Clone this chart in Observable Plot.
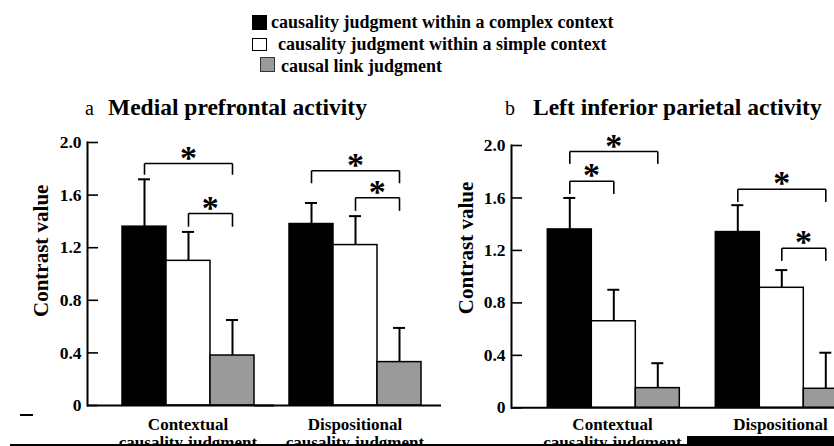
<!DOCTYPE html>
<html><head><meta charset="utf-8">
<script src="https://cdn.jsdelivr.net/npm/d3@7"></script>
<script src="https://cdn.jsdelivr.net/npm/@observablehq/plot@0.6"></script>
<style>
html,body{margin:0;padding:0;background:#fff;}
body{width:834px;height:446px;overflow:hidden;position:relative;font-family:"Liberation Serif","Times New Roman",serif;font-weight:bold;color:#000;}
.abs{position:absolute;white-space:nowrap;}
.leg{font-size:18px;line-height:18px;}
.sw{position:absolute;box-sizing:border-box;}
.title{font-size:23.5px;line-height:24px;}
.letter{font-size:20px;line-height:20px;font-weight:normal;}
.panel{position:absolute;top:0;}
.panel svg{max-width:none;overflow:visible;display:block;}
.art{position:absolute;background:#000;}
</style></head><body>
<div class="sw" style="left:252px;top:15px;width:15px;height:15px;background:#000;"></div>
<div class="abs leg" style="left:271px;top:13px;" id="leg0"></div>
<div class="sw" style="left:252px;top:38px;width:15px;height:13px;background:#fff;border:1.5px solid #000;"></div>
<div class="abs leg" style="left:278px;top:35px;" id="leg1"></div>
<div class="sw" style="left:260px;top:57px;width:15px;height:15px;background:#9a9a9a;border:1.5px solid #333;"></div>
<div class="abs leg" style="left:281px;top:57px;" id="leg2"></div>

<div class="abs letter" style="left:85px;top:98px;">a</div>
<div class="abs title" style="left:108px;top:95px;" id="titleA"></div>
<div class="abs letter" style="left:505px;top:98px;">b</div>
<div class="abs title" style="left:533px;top:95px;" id="titleB"></div>

<div class="panel" id="panelA" style="left:0px;"></div>
<div class="panel" id="panelB" style="left:420px;"></div>

<div class="art" style="left:20px;top:414px;width:13px;height:2px;"></div>
<div class="art" style="left:10px;top:444px;width:824px;height:2px;"></div>
<div class="art" style="left:687px;top:436px;width:147px;height:10px;"></div>

<script>
// ---------- data ----------
const groups = ["Contextual", "Dispositional"];
const groupLabels = ["Contextual\ncausality judgment", "Dispositional\ncausality judgment"];
const series = ["complex", "simple", "link"];
const seriesLabels = [
  "causality judgment within a complex context",
  "causality judgment within a simple context",
  "causal link judgment"
];
const seriesColors = ["#000000", "#ffffff", "#9a9a9a"];
const panelTitles = ["Medial prefrontal activity", "Left inferior parietal activity"];
const yLabel = "Contrast value";
const yTicks = [0, 0.4, 0.8, 1.2, 1.6, 2.0];

// bar heights (mean contrast values), per group: [complex, simple, link]
const medialContextual = [1.36, 1.10, 0.38];
const medialDispositional = [1.38, 1.22, 0.33];
const parietalContextual = [1.36, 0.66, 0.15];
const parietalDispositional = [1.34, 0.915, 0.145];
// upper ends of error bars
const medialContextualErr = [1.72, 1.32, 0.65];
const medialDispositionalErr = [1.54, 1.44, 0.59];
const parietalContextualErr = [1.60, 0.90, 0.34];
const parietalDispositionalErr = [1.545, 1.05, 0.42];

// significance brackets: [group, from, to, top, legBottom]
const medialBrackets = [
  ["Contextual", "complex", "link", 1.84, 1.755],
  ["Contextual", "simple", "link", 1.46, 1.36],
  ["Dispositional", "complex", "link", 1.785, 1.69],
  ["Dispositional", "simple", "link", 1.58, 1.48]
];
const parietalBrackets = [
  ["Contextual", "complex", "link", 1.954, 1.86],
  ["Contextual", "complex", "simple", 1.727, 1.63],
  ["Dispositional", "complex", "link", 1.666, 1.57],
  ["Dispositional", "simple", "link", 1.216, 1.12]
];

// ---------- build tables ----------
function makeRows(vals, errs) {
  const out = [];
  groups.forEach((g, gi) => series.forEach((s, si) =>
    out.push({group: g, series: s, value: vals[gi][si], upper: errs[gi][si]})));
  return out;
}
function makeBrackets(list) {
  return list.map(([group, from, to, top, bottom]) => {
    const a = series.indexOf(from), b = series.indexOf(to);
    const wide = (b - a) % 2 === 0;
    return {group, from, to, top, bottom, wide, mid: wide ? series[(a + b) / 2] : to};
  });
}

const medialRows = makeRows([medialContextual, medialDispositional], [medialContextualErr, medialDispositionalErr]);
const parietalRows = makeRows([parietalContextual, parietalDispositional], [parietalContextualErr, parietalDispositionalErr]);

function panel({rows, brackets, width, marginLeft, top, bottom, axisExtend, labelDx, labelDy, xPad}) {
  const H = 470;
  const br = makeBrackets(brackets);
  const bw = 44.6;
  return Plot.plot({
    width, height: H,
    marginLeft, marginRight: 0, marginTop: top, marginBottom: H - bottom,
    style: {background: "none", fontFamily: "'Liberation Serif', 'Times New Roman', serif", fontWeight: "bold", color: "black", overflow: "visible", maxWidth: "none"},
    fx: {domain: groups, padding: 0, axis: null},
    x: {domain: series, paddingInner: 0, paddingOuter: 0.382, align: 1, axis: null},
    y: {domain: [0, 2], label: null, axis: null},
    color: {domain: series, range: seriesColors},
    marks: [
      Plot.barY(rows, {fx: "group", x: "series", y: "value", fill: "series", stroke: "black", strokeWidth: 1.5}),
      Plot.ruleX(rows, {fx: "group", x: "series", y1: "value", y2: "upper", stroke: "black", strokeWidth: 2}),
      Plot.tickY(rows, {fx: "group", x: "series", y: "upper", insetLeft: 16, insetRight: 16, stroke: "black", strokeWidth: 2}),
      Plot.link(br, {fx: "group", x1: "from", x2: "to", y1: "top", y2: "top", stroke: "black", strokeWidth: 1.6}),
      Plot.link(br, {fx: "group", x1: "from", x2: "from", y1: "top", y2: "bottom", stroke: "black", strokeWidth: 1.6}),
      Plot.link(br, {fx: "group", x1: "to", x2: "to", y1: "top", y2: "bottom", stroke: "black", strokeWidth: 1.6}),
      Plot.text(br.filter(d => d.wide), {fx: "group", x: "mid", y: "top", text: () => "*", fontSize: 34, fontWeight: "bold", lineAnchor: "bottom", dy: 5}),
      Plot.text(br.filter(d => !d.wide), {fx: "group", x: "mid", y: "top", text: () => "*", fontSize: 34, fontWeight: "bold", lineAnchor: "bottom", dy: 5, dx: -bw / 2}),
      Plot.ruleY([0], {stroke: "black", strokeWidth: 2, insetRight: -axisExtend}),
      Plot.frame({anchor: "left", facetAnchor: "left", stroke: "black", strokeWidth: 2}),
      Plot.axisY(yTicks, {anchor: "left", tickSize: -11, tickPadding: 17, strokeWidth: 1.6,
        tickFormat: d => d === 0 ? "0" : d3.format(".1f")(d), fontSize: 17.5, fontWeight: "bold", label: null}),
      Plot.text([{group: groups[0], label: yLabel}], {fx: "group", text: "label", frameAnchor: "left", rotate: -90, dx: labelDx, dy: labelDy, fontSize: 21, fontWeight: "bold"}),
      Plot.axisFx({anchor: "bottom", tickSize: 0, tickPadding: xPad, dx: 17, fontSize: 17, fontWeight: "bold", lineHeight: 1.05,
        tickFormat: d => groupLabels[groups.indexOf(d)], label: null})
    ]
  });
}

document.getElementById("leg0").textContent = seriesLabels[0];
document.getElementById("leg1").textContent = seriesLabels[1];
document.getElementById("leg2").textContent = seriesLabels[2];
document.getElementById("titleA").textContent = panelTitles[0];
document.getElementById("titleB").textContent = panelTitles[1];

document.getElementById("panelA").append(panel({
  rows: medialRows, brackets: medialBrackets,
  width: 421, marginLeft: 86, top: 142, bottom: 405, axisExtend: 20,
  labelDx: -46, labelDy: 43, xPad: 12
}));
document.getElementById("panelB").append(panel({
  rows: parietalRows, brackets: parietalBrackets,
  width: 427, marginLeft: 90.7, top: 145, bottom: 407.3, axisExtend: 0,
  labelDx: -45, labelDy: 37.5, xPad: 9.5
}));
</script>
</body></html>
